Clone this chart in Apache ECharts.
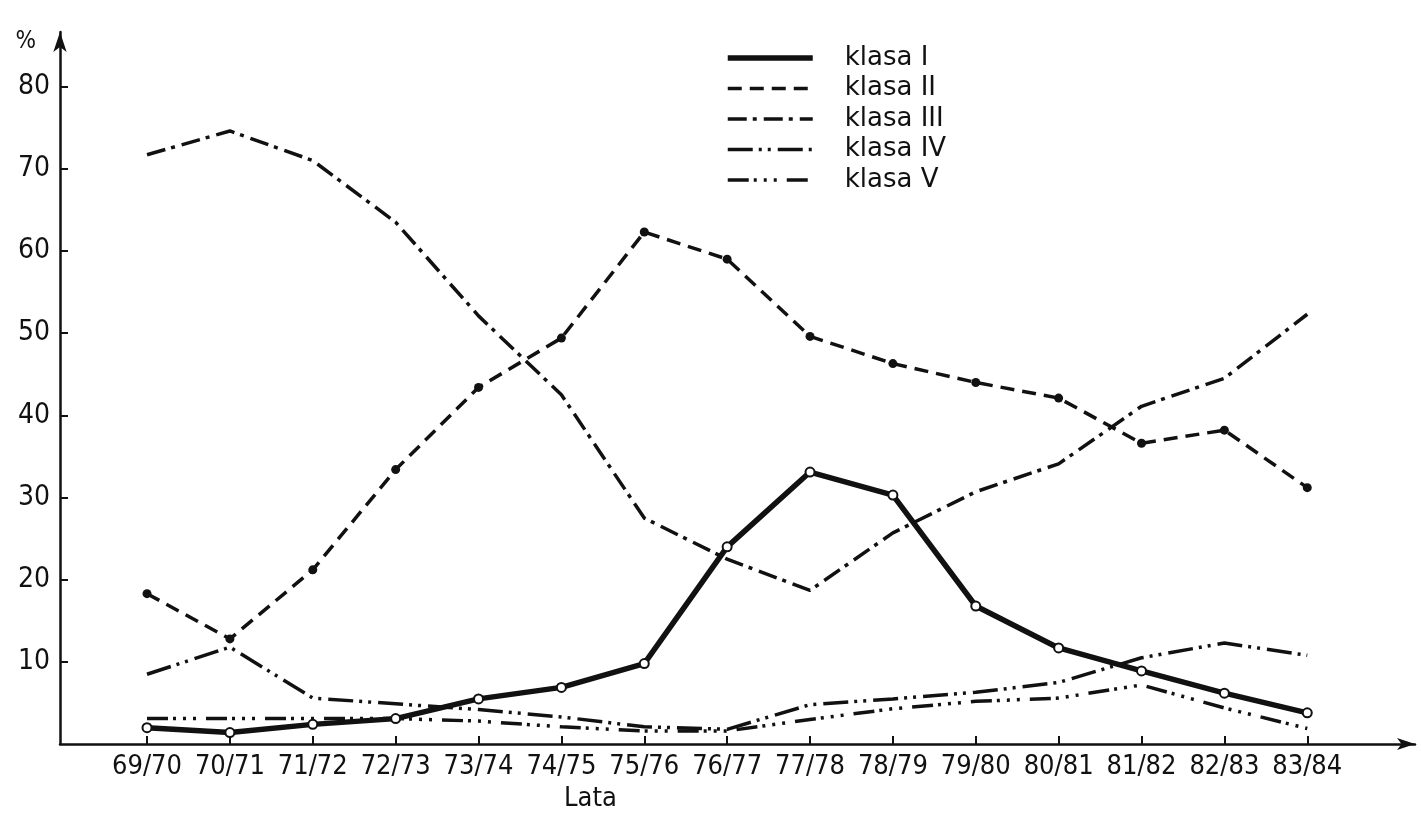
<!DOCTYPE html>
<html>
<head>
<meta charset="utf-8">
<script src="https://cdn.jsdelivr.net/npm/echarts@6/dist/echarts.min.js"></script>
<style>
html,body{margin:0;padding:0;background:#fff;}
#chart{width:1421px;height:817px;}
</style>
</head>
<body>
<div id="chart"></div>
<script>
const categories = ['69/70','70/71','71/72','72/73','73/74','74/75','75/76','76/77','77/78','78/79','79/80','80/81','81/82','82/83','83/84'];
const klasaI   = [2.0, 1.4, 2.4, 3.1, 5.5, 6.9, 9.8, 24.0, 33.1, 30.3, 16.8, 11.7, 8.9, 6.2, 3.8];
const klasaII  = [18.3, 12.8, 21.2, 33.4, 43.4, 49.4, 62.3, 59.0, 49.6, 46.3, 44.0, 42.1, 36.6, 38.2, 31.2];
const klasaIII = [71.7, 74.6, 71.0, 63.5, 52.1, 42.5, 27.5, 22.5, 18.7, 25.7, 30.7, 34.1, 41.1, 44.5, 52.3];
const klasaIV  = [8.5, 11.8, 5.6, 4.9, 4.2, 3.3, 2.1, 1.8, 4.8, 5.5, 6.3, 7.5, 10.5, 12.3, 10.8];
const klasaV   = [3.1, 3.1, 3.1, 3.1, 2.8, 2.1, 1.6, 1.6, 3.0, 4.3, 5.2, 5.6, 7.2, 4.4, 1.9];
const yTicks = [10, 20, 30, 40, 50, 60, 70, 80];
const seriesNames = ['klasa I', 'klasa II', 'klasa III', 'klasa IV', 'klasa V'];

const INK = '#111';
const FONT = '"DejaVu Sans Condensed", "Liberation Sans Narrow", "DejaVu Sans", sans-serif';
const LEGEND_FONT = '"DejaVu Sans", sans-serif';
const pairs = arr => arr.map((v, i) => [i, v]);

const lineStyles = [
  {color: INK, width: 5.5, type: 'solid'},
  {color: INK, width: 3.5, type: [14, 8]},
  {color: INK, width: 3.5, type: [19, 6, 4, 7]},
  {color: INK, width: 3.5, type: [25, 6, 3, 6, 3, 7]},
  {color: INK, width: 3.5, type: [21, 5, 3, 7, 3, 7, 3, 10]}
];

const chart = echarts.init(document.getElementById('chart'), null, {renderer: 'canvas'});
const baseLine = {type: 'line', smooth: false, silent: true, animation: false};
chart.setOption({
  backgroundColor: '#fff',
  animation: false,
  grid: {left: 60, right: 6, top: 32, bottom: 63, containLabel: false},
  legend: {
    orient: 'vertical',
    left: 720,
    top: 40,
    itemWidth: 85,
    itemHeight: 20,
    itemGap: 4.5,
    data: seriesNames.map((n, i) => ({name: n, lineStyle: {width: lineStyles[i].width, type: lineStyles[i].type, color: INK}})),
    itemStyle: {opacity: 0},
    textStyle: {fontFamily: LEGEND_FONT, fontSize: 26, color: INK, padding: [0, 0, 0, 27]},
    selectedMode: false
  },
  xAxis: {
    type: 'value',
    min: -1.05,
    max: 15.3,
    splitLine: {show: false},
    axisLine: {show: true, onZero: false, symbol: ['none', 'arrow'], symbolSize: [9, 18], lineStyle: {color: INK, width: 2.5}},
    axisTick: {show: true, inside: true, length: 8, customValues: categories.map((c, i) => i), lineStyle: {color: INK, width: 2}},
    axisLabel: {
      customValues: categories.map((c, i) => i),
      formatter: v => categories[v],
      fontFamily: FONT, fontSize: 27, color: INK, margin: 9
    },
    name: 'Lata',
    nameLocation: 'middle',
    nameGap: 40,
    nameTextStyle: {fontFamily: FONT, fontSize: 27, color: INK, padding: [0, 294, 0, 0]}
  },
  yAxis: {
    type: 'value',
    min: 0,
    max: 86.64,
    splitLine: {show: false},
    axisLine: {show: true, onZero: false, symbol: ['none', 'arrow'], symbolSize: [10, 20], lineStyle: {color: INK, width: 2.5}},
    axisTick: {show: true, inside: true, length: 8, customValues: yTicks, lineStyle: {color: INK, width: 2}},
    axisLabel: {customValues: yTicks, fontFamily: FONT, fontSize: 28, color: INK, margin: 10},
    name: '%',
    nameLocation: 'end',
    nameGap: -10,
    nameTextStyle: {fontFamily: FONT, fontSize: 24, color: INK, align: 'right', verticalAlign: 'middle', padding: [0, 24, 0, 0]}
  },
  series: [
    Object.assign({}, baseLine, {
      name: 'klasa I', data: pairs(klasaI), z: 5,
      symbol: 'emptyCircle', symbolSize: 9, showSymbol: true,
      lineStyle: lineStyles[0],
      itemStyle: {color: INK, borderColor: INK, borderWidth: 2}
    }),
    Object.assign({}, baseLine, {
      name: 'klasa II', data: pairs(klasaII), z: 4,
      symbol: 'circle', symbolSize: 9, showSymbol: true,
      lineStyle: lineStyles[1],
      itemStyle: {color: INK}
    }),
    Object.assign({}, baseLine, {
      name: 'klasa III', data: pairs(klasaIII), z: 3,
      symbol: 'none',
      lineStyle: lineStyles[2],
      itemStyle: {color: INK}
    }),
    Object.assign({}, baseLine, {
      name: 'klasa IV', data: pairs(klasaIV), z: 3,
      symbol: 'none',
      lineStyle: lineStyles[3],
      itemStyle: {color: INK}
    }),
    Object.assign({}, baseLine, {
      name: 'klasa V', data: pairs(klasaV), z: 3,
      symbol: 'none',
      lineStyle: lineStyles[4],
      itemStyle: {color: INK}
    })
  ]
});
</script>
</body>
</html>
